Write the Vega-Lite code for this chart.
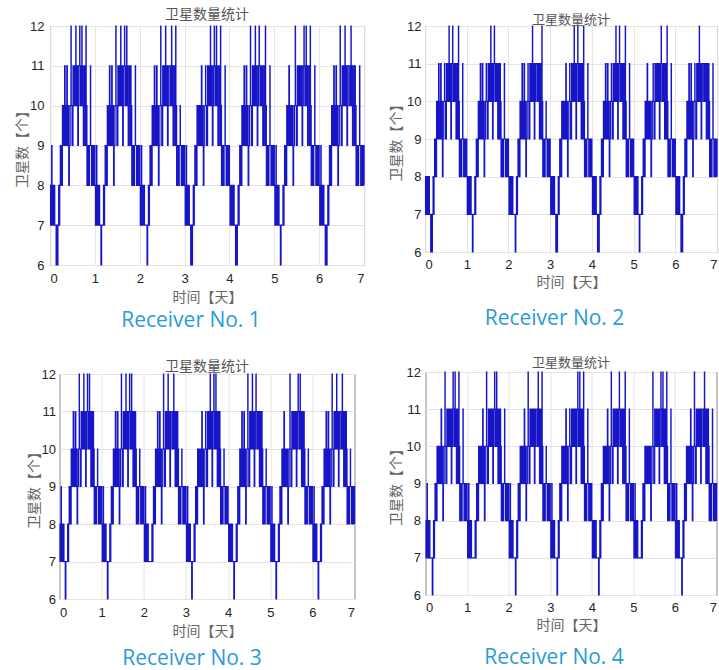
{
"$schema":"https://vega.github.io/schema/vega-lite/v6.json",
"background":"white",
"padding":{"left":15,"top":7,"right":0,"bottom":0},
"spacing":21,
"config":{
"view":{"stroke":"#4a4a4a","strokeWidth":1},
"axis":{"grid":true,"gridColor":"#e4e4e4","gridWidth":1,"domain":false,"ticks":false,"labelFont":"Liberation Sans","labelFontSize":13,"labelColor":"#262626","titleFont":"Noto Sans CJK SC","titleFontSize":14,"titleFontWeight":"normal","titleColor":"#666666"},
"title":{"font":"Noto Sans CJK SC","fontSize":14,"fontWeight":"normal","color":"#555555"}
},
"datasets":{"s":[
{"t":0,"a":8,"b":8,"c":8,"d":8},
{"t":0.012,"a":7,"b":7,"c":7,"d":7},
{"t":0.024,"a":8,"b":8,"c":8,"d":8},
{"t":0.036,"a":9,"b":8,"c":9,"d":9},
{"t":0.044,"a":7,"b":7,"c":7,"d":7},
{"t":0.058,"a":8,"b":8,"c":8,"d":8},
{"t":0.072,"a":7,"b":7,"c":7,"d":7},
{"t":0.09,"a":8,"b":8,"c":8,"d":8},
{"t":0.105,"a":7,"b":7,"c":7,"d":7},
{"t":0.135,"a":6,"b":6,"c":6,"d":7},
{"t":0.15,"a":7,"b":7,"c":7,"d":7},
{"t":0.162,"a":6,"b":6,"c":7,"d":6},
{"t":0.176,"a":7,"b":7,"c":7,"d":7},
{"t":0.192,"a":8,"b":8,"c":8,"d":8},
{"t":0.204,"a":7,"b":7,"c":7,"d":7},
{"t":0.216,"a":8,"b":8,"c":8,"d":8},
{"t":0.228,"a":9,"b":9,"c":9,"d":9},
{"t":0.24,"a":8,"b":8,"c":8,"d":8},
{"t":0.252,"a":9,"b":9,"c":9,"d":9},
{"t":0.264,"a":8,"b":8,"c":8,"d":8},
{"t":0.276,"a":10,"b":10,"c":10,"d":10},
{"t":0.288,"a":9,"b":9,"c":9,"d":9},
{"t":0.3,"a":10,"b":10,"c":10,"d":10},
{"t":0.312,"a":9,"b":9,"c":9,"d":9},
{"t":0.324,"a":11,"b":11,"c":11,"d":10},
{"t":0.336,"a":10,"b":10,"c":10,"d":10},
{"t":0.348,"a":9,"b":9,"c":9,"d":9},
{"t":0.36,"a":10,"b":10,"c":10,"d":10},
{"t":0.374,"a":11,"b":11,"c":11,"d":11},
{"t":0.386,"a":9,"b":9,"c":9,"d":9},
{"t":0.4,"a":10,"b":10,"c":10,"d":10},
{"t":0.416,"a":8,"b":8,"c":8,"d":8},
{"t":0.43,"a":9,"b":9,"c":9,"d":9},
{"t":0.448,"a":10,"b":10,"c":10,"d":10},
{"t":0.466,"a":12,"b":11,"c":12,"d":12},
{"t":0.472,"a":10,"b":10,"c":10,"d":10},
{"t":0.49,"a":9,"b":9,"c":9,"d":9},
{"t":0.512,"a":11,"b":11,"c":11,"d":11},
{"t":0.53,"a":10,"b":10,"c":10,"d":10},
{"t":0.545,"a":11,"b":11,"c":11,"d":11},
{"t":0.56,"a":10,"b":10,"c":10,"d":10},
{"t":0.574,"a":12,"b":12,"c":12,"d":11},
{"t":0.58,"a":11,"b":11,"c":11,"d":11},
{"t":0.594,"a":10,"b":10,"c":10,"d":10},
{"t":0.606,"a":11,"b":11,"c":11,"d":11},
{"t":0.618,"a":9,"b":9,"c":9,"d":9},
{"t":0.632,"a":10,"b":10,"c":10,"d":10},
{"t":0.646,"a":11,"b":11,"c":11,"d":11},
{"t":0.66,"a":12,"b":12,"c":12,"d":12},
{"t":0.666,"a":11,"b":11,"c":11,"d":11},
{"t":0.68,"a":10,"b":10,"c":10,"d":10},
{"t":0.694,"a":11,"b":11,"c":11,"d":11},
{"t":0.708,"a":12,"b":11,"c":12,"d":12},
{"t":0.714,"a":10,"b":10,"c":10,"d":10},
{"t":0.728,"a":11,"b":11,"c":11,"d":11},
{"t":0.742,"a":9,"b":9,"c":9,"d":9},
{"t":0.756,"a":10,"b":10,"c":10,"d":10},
{"t":0.77,"a":11,"b":11,"c":11,"d":11},
{"t":0.784,"a":9,"b":9,"c":9,"d":9},
{"t":0.8,"a":12,"b":12,"c":11,"d":12},
{"t":0.806,"a":10,"b":10,"c":10,"d":10},
{"t":0.822,"a":8,"b":8,"c":8,"d":8},
{"t":0.84,"a":9,"b":9,"c":9,"d":9},
{"t":0.86,"a":8,"b":8,"c":8,"d":8},
{"t":0.88,"a":9,"b":9,"c":9,"d":9},
{"t":0.9,"a":11,"b":11,"c":10,"d":11},
{"t":0.906,"a":9,"b":9,"c":9,"d":9},
{"t":0.925,"a":8,"b":8,"c":8,"d":8},
{"t":0.945,"a":9,"b":9,"c":9,"d":9},
{"t":0.965,"a":8,"b":8,"c":8,"d":8},
{"t":0.982,"a":9,"b":9,"c":9,"d":9},
{"t":1,"a":8,"b":8,"c":8,"d":8},
{"t":1.012,"a":7,"b":7,"c":7,"d":7},
{"t":1.024,"a":8,"b":8,"c":8,"d":8},
{"t":1.036,"a":9,"b":8,"c":9,"d":9},
{"t":1.044,"a":7,"b":7,"c":7,"d":7},
{"t":1.058,"a":8,"b":8,"c":8,"d":8},
{"t":1.072,"a":7,"b":7,"c":7,"d":7},
{"t":1.09,"a":8,"b":8,"c":8,"d":8},
{"t":1.105,"a":7,"b":7,"c":7,"d":7},
{"t":1.135,"a":6,"b":6,"c":6,"d":7},
{"t":1.15,"a":7,"b":7,"c":7,"d":7},
{"t":1.162,"a":7,"b":7,"c":7,"d":7},
{"t":1.176,"a":7,"b":7,"c":7,"d":7},
{"t":1.192,"a":8,"b":8,"c":8,"d":8},
{"t":1.204,"a":7,"b":7,"c":7,"d":7},
{"t":1.216,"a":8,"b":8,"c":8,"d":8},
{"t":1.228,"a":9,"b":9,"c":9,"d":9},
{"t":1.24,"a":8,"b":8,"c":8,"d":8},
{"t":1.252,"a":9,"b":9,"c":9,"d":9},
{"t":1.264,"a":8,"b":8,"c":8,"d":8},
{"t":1.276,"a":10,"b":10,"c":10,"d":10},
{"t":1.288,"a":9,"b":9,"c":9,"d":9},
{"t":1.3,"a":10,"b":10,"c":10,"d":10},
{"t":1.312,"a":9,"b":9,"c":9,"d":9},
{"t":1.324,"a":11,"b":11,"c":11,"d":10},
{"t":1.336,"a":10,"b":10,"c":10,"d":10},
{"t":1.348,"a":9,"b":9,"c":9,"d":9},
{"t":1.36,"a":10,"b":10,"c":10,"d":10},
{"t":1.374,"a":11,"b":11,"c":11,"d":11},
{"t":1.386,"a":9,"b":9,"c":9,"d":9},
{"t":1.4,"a":10,"b":10,"c":10,"d":10},
{"t":1.416,"a":8,"b":8,"c":8,"d":8},
{"t":1.43,"a":9,"b":9,"c":9,"d":9},
{"t":1.448,"a":10,"b":10,"c":10,"d":10},
{"t":1.466,"a":12,"b":11,"c":12,"d":12},
{"t":1.472,"a":10,"b":10,"c":10,"d":10},
{"t":1.49,"a":9,"b":9,"c":9,"d":9},
{"t":1.512,"a":11,"b":11,"c":11,"d":11},
{"t":1.53,"a":10,"b":10,"c":10,"d":10},
{"t":1.545,"a":11,"b":11,"c":11,"d":11},
{"t":1.56,"a":10,"b":10,"c":10,"d":10},
{"t":1.574,"a":12,"b":12,"c":12,"d":11},
{"t":1.58,"a":11,"b":11,"c":11,"d":11},
{"t":1.594,"a":10,"b":10,"c":10,"d":10},
{"t":1.606,"a":11,"b":11,"c":11,"d":11},
{"t":1.618,"a":9,"b":9,"c":9,"d":9},
{"t":1.632,"a":10,"b":10,"c":10,"d":10},
{"t":1.646,"a":11,"b":11,"c":11,"d":11},
{"t":1.66,"a":12,"b":12,"c":12,"d":12},
{"t":1.666,"a":11,"b":11,"c":11,"d":11},
{"t":1.68,"a":10,"b":10,"c":10,"d":10},
{"t":1.694,"a":11,"b":11,"c":11,"d":11},
{"t":1.708,"a":12,"b":11,"c":12,"d":12},
{"t":1.714,"a":10,"b":10,"c":10,"d":10},
{"t":1.728,"a":11,"b":11,"c":11,"d":11},
{"t":1.742,"a":9,"b":9,"c":9,"d":9},
{"t":1.756,"a":10,"b":10,"c":10,"d":10},
{"t":1.77,"a":11,"b":11,"c":11,"d":11},
{"t":1.784,"a":9,"b":9,"c":9,"d":9},
{"t":1.8,"a":11,"b":11,"c":11,"d":11},
{"t":1.806,"a":10,"b":10,"c":10,"d":10},
{"t":1.822,"a":8,"b":8,"c":8,"d":8},
{"t":1.84,"a":9,"b":9,"c":9,"d":9},
{"t":1.86,"a":8,"b":8,"c":8,"d":8},
{"t":1.88,"a":9,"b":9,"c":9,"d":9},
{"t":1.9,"a":11,"b":11,"c":10,"d":11},
{"t":1.906,"a":9,"b":9,"c":9,"d":9},
{"t":1.925,"a":8,"b":8,"c":8,"d":8},
{"t":1.945,"a":9,"b":9,"c":9,"d":9},
{"t":1.965,"a":8,"b":8,"c":8,"d":8},
{"t":1.982,"a":9,"b":9,"c":9,"d":9},
{"t":2,"a":8,"b":8,"c":8,"d":8},
{"t":2.012,"a":7,"b":7,"c":7,"d":7},
{"t":2.024,"a":8,"b":8,"c":8,"d":8},
{"t":2.036,"a":9,"b":8,"c":9,"d":9},
{"t":2.044,"a":7,"b":7,"c":7,"d":7},
{"t":2.058,"a":8,"b":8,"c":8,"d":8},
{"t":2.072,"a":7,"b":7,"c":7,"d":7},
{"t":2.09,"a":8,"b":8,"c":8,"d":8},
{"t":2.105,"a":7,"b":7,"c":7,"d":7},
{"t":2.135,"a":7,"b":7,"c":7,"d":7},
{"t":2.15,"a":7,"b":7,"c":7,"d":7},
{"t":2.162,"a":6,"b":6,"c":7,"d":6},
{"t":2.176,"a":7,"b":7,"c":7,"d":7},
{"t":2.192,"a":8,"b":8,"c":8,"d":8},
{"t":2.204,"a":7,"b":7,"c":7,"d":7},
{"t":2.216,"a":8,"b":8,"c":8,"d":8},
{"t":2.228,"a":9,"b":9,"c":9,"d":9},
{"t":2.24,"a":8,"b":8,"c":8,"d":8},
{"t":2.252,"a":9,"b":9,"c":9,"d":9},
{"t":2.264,"a":8,"b":8,"c":8,"d":8},
{"t":2.276,"a":10,"b":10,"c":10,"d":10},
{"t":2.288,"a":9,"b":9,"c":9,"d":9},
{"t":2.3,"a":10,"b":10,"c":10,"d":10},
{"t":2.312,"a":9,"b":9,"c":9,"d":9},
{"t":2.324,"a":11,"b":11,"c":11,"d":10},
{"t":2.336,"a":10,"b":10,"c":10,"d":10},
{"t":2.348,"a":9,"b":9,"c":9,"d":9},
{"t":2.36,"a":10,"b":10,"c":10,"d":10},
{"t":2.374,"a":11,"b":11,"c":11,"d":11},
{"t":2.386,"a":9,"b":9,"c":9,"d":9},
{"t":2.4,"a":10,"b":10,"c":10,"d":10},
{"t":2.416,"a":8,"b":8,"c":8,"d":8},
{"t":2.43,"a":9,"b":9,"c":9,"d":9},
{"t":2.448,"a":10,"b":10,"c":10,"d":10},
{"t":2.466,"a":12,"b":11,"c":12,"d":12},
{"t":2.472,"a":10,"b":10,"c":10,"d":10},
{"t":2.49,"a":9,"b":9,"c":9,"d":9},
{"t":2.512,"a":11,"b":11,"c":11,"d":11},
{"t":2.53,"a":10,"b":10,"c":10,"d":10},
{"t":2.545,"a":11,"b":11,"c":11,"d":11},
{"t":2.56,"a":10,"b":10,"c":10,"d":10},
{"t":2.574,"a":12,"b":12,"c":12,"d":11},
{"t":2.58,"a":11,"b":11,"c":11,"d":11},
{"t":2.594,"a":10,"b":10,"c":10,"d":10},
{"t":2.606,"a":11,"b":11,"c":11,"d":11},
{"t":2.618,"a":9,"b":9,"c":9,"d":9},
{"t":2.632,"a":10,"b":10,"c":10,"d":10},
{"t":2.646,"a":11,"b":11,"c":11,"d":11},
{"t":2.66,"a":11,"b":11,"c":11,"d":11},
{"t":2.666,"a":11,"b":11,"c":11,"d":11},
{"t":2.68,"a":10,"b":10,"c":10,"d":10},
{"t":2.694,"a":11,"b":11,"c":11,"d":11},
{"t":2.708,"a":12,"b":11,"c":12,"d":12},
{"t":2.714,"a":10,"b":10,"c":10,"d":10},
{"t":2.728,"a":11,"b":11,"c":11,"d":11},
{"t":2.742,"a":9,"b":9,"c":9,"d":9},
{"t":2.756,"a":10,"b":10,"c":10,"d":10},
{"t":2.77,"a":11,"b":11,"c":11,"d":11},
{"t":2.784,"a":9,"b":9,"c":9,"d":9},
{"t":2.8,"a":12,"b":12,"c":11,"d":12},
{"t":2.806,"a":10,"b":10,"c":10,"d":10},
{"t":2.822,"a":8,"b":8,"c":8,"d":8},
{"t":2.84,"a":9,"b":9,"c":9,"d":9},
{"t":2.86,"a":8,"b":8,"c":8,"d":8},
{"t":2.88,"a":9,"b":9,"c":9,"d":9},
{"t":2.9,"a":10,"b":10,"c":10,"d":10},
{"t":2.906,"a":9,"b":9,"c":9,"d":9},
{"t":2.925,"a":8,"b":8,"c":8,"d":8},
{"t":2.945,"a":9,"b":9,"c":9,"d":9},
{"t":2.965,"a":8,"b":8,"c":8,"d":8},
{"t":2.982,"a":9,"b":9,"c":9,"d":9},
{"t":3,"a":8,"b":8,"c":8,"d":8},
{"t":3.012,"a":7,"b":7,"c":7,"d":7},
{"t":3.024,"a":8,"b":8,"c":8,"d":8},
{"t":3.036,"a":9,"b":8,"c":9,"d":9},
{"t":3.044,"a":7,"b":7,"c":7,"d":7},
{"t":3.058,"a":8,"b":8,"c":8,"d":8},
{"t":3.072,"a":7,"b":7,"c":7,"d":7},
{"t":3.09,"a":8,"b":8,"c":8,"d":8},
{"t":3.105,"a":7,"b":7,"c":7,"d":7},
{"t":3.135,"a":6,"b":6,"c":6,"d":7},
{"t":3.15,"a":7,"b":7,"c":7,"d":7},
{"t":3.162,"a":6,"b":6,"c":7,"d":6},
{"t":3.176,"a":7,"b":7,"c":7,"d":7},
{"t":3.192,"a":8,"b":8,"c":8,"d":8},
{"t":3.204,"a":7,"b":7,"c":7,"d":7},
{"t":3.216,"a":8,"b":8,"c":8,"d":8},
{"t":3.228,"a":9,"b":9,"c":9,"d":9},
{"t":3.24,"a":8,"b":8,"c":8,"d":8},
{"t":3.252,"a":9,"b":9,"c":9,"d":9},
{"t":3.264,"a":8,"b":8,"c":8,"d":8},
{"t":3.276,"a":10,"b":10,"c":10,"d":10},
{"t":3.288,"a":9,"b":9,"c":9,"d":9},
{"t":3.3,"a":10,"b":10,"c":10,"d":10},
{"t":3.312,"a":9,"b":9,"c":9,"d":9},
{"t":3.324,"a":10,"b":10,"c":10,"d":10},
{"t":3.336,"a":10,"b":10,"c":10,"d":10},
{"t":3.348,"a":9,"b":9,"c":9,"d":9},
{"t":3.36,"a":10,"b":10,"c":10,"d":10},
{"t":3.374,"a":11,"b":11,"c":11,"d":11},
{"t":3.386,"a":9,"b":9,"c":9,"d":9},
{"t":3.4,"a":10,"b":10,"c":10,"d":10},
{"t":3.416,"a":8,"b":8,"c":8,"d":8},
{"t":3.43,"a":9,"b":9,"c":9,"d":9},
{"t":3.448,"a":10,"b":10,"c":10,"d":10},
{"t":3.466,"a":11,"b":11,"c":11,"d":11},
{"t":3.472,"a":10,"b":10,"c":10,"d":10},
{"t":3.49,"a":9,"b":9,"c":9,"d":9},
{"t":3.512,"a":11,"b":11,"c":11,"d":11},
{"t":3.53,"a":10,"b":10,"c":10,"d":10},
{"t":3.545,"a":11,"b":11,"c":11,"d":11},
{"t":3.56,"a":10,"b":10,"c":10,"d":10},
{"t":3.574,"a":12,"b":12,"c":12,"d":11},
{"t":3.58,"a":11,"b":11,"c":11,"d":11},
{"t":3.594,"a":10,"b":10,"c":10,"d":10},
{"t":3.606,"a":11,"b":11,"c":11,"d":11},
{"t":3.618,"a":9,"b":9,"c":9,"d":9},
{"t":3.632,"a":10,"b":10,"c":10,"d":10},
{"t":3.646,"a":11,"b":11,"c":11,"d":11},
{"t":3.66,"a":12,"b":12,"c":12,"d":12},
{"t":3.666,"a":11,"b":11,"c":11,"d":11},
{"t":3.68,"a":10,"b":10,"c":10,"d":10},
{"t":3.694,"a":11,"b":11,"c":11,"d":11},
{"t":3.708,"a":12,"b":11,"c":12,"d":12},
{"t":3.714,"a":10,"b":10,"c":10,"d":10},
{"t":3.728,"a":11,"b":11,"c":11,"d":11},
{"t":3.742,"a":9,"b":9,"c":9,"d":9},
{"t":3.756,"a":10,"b":10,"c":10,"d":10},
{"t":3.77,"a":11,"b":11,"c":11,"d":11},
{"t":3.784,"a":9,"b":9,"c":9,"d":9},
{"t":3.8,"a":12,"b":12,"c":11,"d":12},
{"t":3.806,"a":10,"b":10,"c":10,"d":10},
{"t":3.822,"a":8,"b":8,"c":8,"d":8},
{"t":3.84,"a":9,"b":9,"c":9,"d":9},
{"t":3.86,"a":8,"b":8,"c":8,"d":8},
{"t":3.88,"a":9,"b":9,"c":9,"d":9},
{"t":3.9,"a":11,"b":11,"c":10,"d":11},
{"t":3.906,"a":9,"b":9,"c":9,"d":9},
{"t":3.925,"a":8,"b":8,"c":8,"d":8},
{"t":3.945,"a":9,"b":9,"c":9,"d":9},
{"t":3.965,"a":8,"b":8,"c":8,"d":8},
{"t":3.982,"a":9,"b":9,"c":9,"d":9},
{"t":4,"a":8,"b":8,"c":8,"d":8},
{"t":4.012,"a":7,"b":7,"c":7,"d":7},
{"t":4.024,"a":8,"b":8,"c":8,"d":8},
{"t":4.036,"a":8,"b":8,"c":8,"d":8},
{"t":4.044,"a":7,"b":7,"c":7,"d":7},
{"t":4.058,"a":8,"b":8,"c":8,"d":8},
{"t":4.072,"a":7,"b":7,"c":7,"d":7},
{"t":4.09,"a":8,"b":8,"c":8,"d":8},
{"t":4.105,"a":7,"b":7,"c":7,"d":7},
{"t":4.135,"a":6,"b":6,"c":6,"d":7},
{"t":4.15,"a":7,"b":7,"c":7,"d":7},
{"t":4.162,"a":6,"b":6,"c":7,"d":6},
{"t":4.176,"a":7,"b":7,"c":7,"d":7},
{"t":4.192,"a":8,"b":8,"c":8,"d":8},
{"t":4.204,"a":7,"b":7,"c":7,"d":7},
{"t":4.216,"a":8,"b":8,"c":8,"d":8},
{"t":4.228,"a":9,"b":9,"c":9,"d":9},
{"t":4.24,"a":8,"b":8,"c":8,"d":8},
{"t":4.252,"a":9,"b":9,"c":9,"d":9},
{"t":4.264,"a":8,"b":8,"c":8,"d":8},
{"t":4.276,"a":10,"b":10,"c":10,"d":10},
{"t":4.288,"a":9,"b":9,"c":9,"d":9},
{"t":4.3,"a":10,"b":10,"c":10,"d":10},
{"t":4.312,"a":9,"b":9,"c":9,"d":9},
{"t":4.324,"a":11,"b":11,"c":11,"d":10},
{"t":4.336,"a":10,"b":10,"c":10,"d":10},
{"t":4.348,"a":9,"b":9,"c":9,"d":9},
{"t":4.36,"a":10,"b":10,"c":10,"d":10},
{"t":4.374,"a":11,"b":11,"c":11,"d":11},
{"t":4.386,"a":9,"b":9,"c":9,"d":9},
{"t":4.4,"a":10,"b":10,"c":10,"d":10},
{"t":4.416,"a":8,"b":8,"c":8,"d":8},
{"t":4.43,"a":9,"b":9,"c":9,"d":9},
{"t":4.448,"a":10,"b":10,"c":10,"d":10},
{"t":4.466,"a":12,"b":11,"c":12,"d":12},
{"t":4.472,"a":10,"b":10,"c":10,"d":10},
{"t":4.49,"a":9,"b":9,"c":9,"d":9},
{"t":4.512,"a":11,"b":11,"c":11,"d":11},
{"t":4.53,"a":10,"b":10,"c":10,"d":10},
{"t":4.545,"a":11,"b":11,"c":11,"d":11},
{"t":4.56,"a":10,"b":10,"c":10,"d":10},
{"t":4.574,"a":12,"b":12,"c":12,"d":11},
{"t":4.58,"a":11,"b":11,"c":11,"d":11},
{"t":4.594,"a":10,"b":10,"c":10,"d":10},
{"t":4.606,"a":11,"b":11,"c":11,"d":11},
{"t":4.618,"a":9,"b":9,"c":9,"d":9},
{"t":4.632,"a":10,"b":10,"c":10,"d":10},
{"t":4.646,"a":11,"b":11,"c":11,"d":11},
{"t":4.66,"a":12,"b":12,"c":12,"d":12},
{"t":4.666,"a":11,"b":11,"c":11,"d":11},
{"t":4.68,"a":10,"b":10,"c":10,"d":10},
{"t":4.694,"a":11,"b":11,"c":11,"d":11},
{"t":4.708,"a":11,"b":11,"c":11,"d":11},
{"t":4.714,"a":10,"b":10,"c":10,"d":10},
{"t":4.728,"a":11,"b":11,"c":11,"d":11},
{"t":4.742,"a":9,"b":9,"c":9,"d":9},
{"t":4.756,"a":10,"b":10,"c":10,"d":10},
{"t":4.77,"a":11,"b":11,"c":11,"d":11},
{"t":4.784,"a":9,"b":9,"c":9,"d":9},
{"t":4.8,"a":12,"b":12,"c":11,"d":12},
{"t":4.806,"a":10,"b":10,"c":10,"d":10},
{"t":4.822,"a":8,"b":8,"c":8,"d":8},
{"t":4.84,"a":9,"b":9,"c":9,"d":9},
{"t":4.86,"a":8,"b":8,"c":8,"d":8},
{"t":4.88,"a":9,"b":9,"c":9,"d":9},
{"t":4.9,"a":11,"b":11,"c":10,"d":11},
{"t":4.906,"a":9,"b":9,"c":9,"d":9},
{"t":4.925,"a":8,"b":8,"c":8,"d":8},
{"t":4.945,"a":9,"b":9,"c":9,"d":9},
{"t":4.965,"a":8,"b":8,"c":8,"d":8},
{"t":4.982,"a":9,"b":9,"c":9,"d":9},
{"t":5,"a":8,"b":8,"c":8,"d":8},
{"t":5.012,"a":7,"b":7,"c":7,"d":7},
{"t":5.024,"a":8,"b":8,"c":8,"d":8},
{"t":5.036,"a":9,"b":8,"c":9,"d":9},
{"t":5.044,"a":7,"b":7,"c":7,"d":7},
{"t":5.058,"a":8,"b":8,"c":8,"d":8},
{"t":5.072,"a":7,"b":7,"c":7,"d":7},
{"t":5.09,"a":8,"b":8,"c":8,"d":8},
{"t":5.105,"a":7,"b":7,"c":7,"d":7},
{"t":5.135,"a":6,"b":6,"c":6,"d":7},
{"t":5.15,"a":7,"b":7,"c":7,"d":7},
{"t":5.162,"a":7,"b":7,"c":7,"d":7},
{"t":5.176,"a":7,"b":7,"c":7,"d":7},
{"t":5.192,"a":8,"b":8,"c":8,"d":8},
{"t":5.204,"a":7,"b":7,"c":7,"d":7},
{"t":5.216,"a":8,"b":8,"c":8,"d":8},
{"t":5.228,"a":9,"b":9,"c":9,"d":9},
{"t":5.24,"a":8,"b":8,"c":8,"d":8},
{"t":5.252,"a":9,"b":9,"c":9,"d":9},
{"t":5.264,"a":8,"b":8,"c":8,"d":8},
{"t":5.276,"a":10,"b":10,"c":10,"d":10},
{"t":5.288,"a":9,"b":9,"c":9,"d":9},
{"t":5.3,"a":10,"b":10,"c":10,"d":10},
{"t":5.312,"a":9,"b":9,"c":9,"d":9},
{"t":5.324,"a":11,"b":11,"c":11,"d":10},
{"t":5.336,"a":10,"b":10,"c":10,"d":10},
{"t":5.348,"a":9,"b":9,"c":9,"d":9},
{"t":5.36,"a":10,"b":10,"c":10,"d":10},
{"t":5.374,"a":10,"b":10,"c":10,"d":10},
{"t":5.386,"a":9,"b":9,"c":9,"d":9},
{"t":5.4,"a":10,"b":10,"c":10,"d":10},
{"t":5.416,"a":8,"b":8,"c":8,"d":8},
{"t":5.43,"a":9,"b":9,"c":9,"d":9},
{"t":5.448,"a":10,"b":10,"c":10,"d":10},
{"t":5.466,"a":12,"b":11,"c":12,"d":12},
{"t":5.472,"a":10,"b":10,"c":10,"d":10},
{"t":5.49,"a":9,"b":9,"c":9,"d":9},
{"t":5.512,"a":11,"b":11,"c":11,"d":11},
{"t":5.53,"a":10,"b":10,"c":10,"d":10},
{"t":5.545,"a":11,"b":11,"c":11,"d":11},
{"t":5.56,"a":10,"b":10,"c":10,"d":10},
{"t":5.574,"a":11,"b":11,"c":11,"d":11},
{"t":5.58,"a":11,"b":11,"c":11,"d":11},
{"t":5.594,"a":10,"b":10,"c":10,"d":10},
{"t":5.606,"a":11,"b":11,"c":11,"d":11},
{"t":5.618,"a":9,"b":9,"c":9,"d":9},
{"t":5.632,"a":10,"b":10,"c":10,"d":10},
{"t":5.646,"a":11,"b":11,"c":11,"d":11},
{"t":5.66,"a":12,"b":12,"c":12,"d":12},
{"t":5.666,"a":11,"b":11,"c":11,"d":11},
{"t":5.68,"a":10,"b":10,"c":10,"d":10},
{"t":5.694,"a":11,"b":11,"c":11,"d":11},
{"t":5.708,"a":12,"b":11,"c":12,"d":12},
{"t":5.714,"a":10,"b":10,"c":10,"d":10},
{"t":5.728,"a":11,"b":11,"c":11,"d":11},
{"t":5.742,"a":9,"b":9,"c":9,"d":9},
{"t":5.756,"a":10,"b":10,"c":10,"d":10},
{"t":5.77,"a":11,"b":11,"c":11,"d":11},
{"t":5.784,"a":9,"b":9,"c":9,"d":9},
{"t":5.8,"a":12,"b":12,"c":11,"d":12},
{"t":5.806,"a":10,"b":10,"c":10,"d":10},
{"t":5.822,"a":8,"b":8,"c":8,"d":8},
{"t":5.84,"a":9,"b":9,"c":9,"d":9},
{"t":5.86,"a":8,"b":8,"c":8,"d":8},
{"t":5.88,"a":9,"b":9,"c":9,"d":9},
{"t":5.9,"a":11,"b":11,"c":10,"d":11},
{"t":5.906,"a":9,"b":9,"c":9,"d":9},
{"t":5.925,"a":8,"b":8,"c":8,"d":8},
{"t":5.945,"a":9,"b":9,"c":9,"d":9},
{"t":5.965,"a":8,"b":8,"c":8,"d":8},
{"t":5.982,"a":9,"b":9,"c":9,"d":9},
{"t":6,"a":8,"b":8,"c":8,"d":8},
{"t":6.012,"a":7,"b":7,"c":7,"d":7},
{"t":6.024,"a":8,"b":8,"c":8,"d":8},
{"t":6.036,"a":9,"b":8,"c":9,"d":9},
{"t":6.044,"a":7,"b":7,"c":7,"d":7},
{"t":6.058,"a":8,"b":8,"c":8,"d":8},
{"t":6.072,"a":7,"b":7,"c":7,"d":7},
{"t":6.09,"a":8,"b":8,"c":8,"d":8},
{"t":6.105,"a":7,"b":7,"c":7,"d":7},
{"t":6.135,"a":6,"b":6,"c":6,"d":7},
{"t":6.15,"a":7,"b":7,"c":7,"d":7},
{"t":6.162,"a":6,"b":6,"c":7,"d":6},
{"t":6.176,"a":7,"b":7,"c":7,"d":7},
{"t":6.192,"a":8,"b":8,"c":8,"d":8},
{"t":6.204,"a":7,"b":7,"c":7,"d":7},
{"t":6.216,"a":8,"b":8,"c":8,"d":8},
{"t":6.228,"a":9,"b":9,"c":9,"d":9},
{"t":6.24,"a":8,"b":8,"c":8,"d":8},
{"t":6.252,"a":9,"b":9,"c":9,"d":9},
{"t":6.264,"a":8,"b":8,"c":8,"d":8},
{"t":6.276,"a":10,"b":10,"c":10,"d":10},
{"t":6.288,"a":9,"b":9,"c":9,"d":9},
{"t":6.3,"a":10,"b":10,"c":10,"d":10},
{"t":6.312,"a":9,"b":9,"c":9,"d":9},
{"t":6.324,"a":11,"b":11,"c":11,"d":10},
{"t":6.336,"a":10,"b":10,"c":10,"d":10},
{"t":6.348,"a":9,"b":9,"c":9,"d":9},
{"t":6.36,"a":10,"b":10,"c":10,"d":10},
{"t":6.374,"a":11,"b":11,"c":11,"d":11},
{"t":6.386,"a":9,"b":9,"c":9,"d":9},
{"t":6.4,"a":10,"b":10,"c":10,"d":10},
{"t":6.416,"a":8,"b":8,"c":8,"d":8},
{"t":6.43,"a":9,"b":9,"c":9,"d":9},
{"t":6.448,"a":10,"b":10,"c":10,"d":10},
{"t":6.466,"a":12,"b":11,"c":12,"d":12},
{"t":6.472,"a":10,"b":10,"c":10,"d":10},
{"t":6.49,"a":9,"b":9,"c":9,"d":9},
{"t":6.512,"a":11,"b":11,"c":11,"d":11},
{"t":6.53,"a":10,"b":10,"c":10,"d":10},
{"t":6.545,"a":11,"b":11,"c":11,"d":11},
{"t":6.56,"a":10,"b":10,"c":10,"d":10},
{"t":6.574,"a":12,"b":12,"c":12,"d":11},
{"t":6.58,"a":11,"b":11,"c":11,"d":11},
{"t":6.594,"a":10,"b":10,"c":10,"d":10},
{"t":6.606,"a":11,"b":11,"c":11,"d":11},
{"t":6.618,"a":9,"b":9,"c":9,"d":9},
{"t":6.632,"a":10,"b":10,"c":10,"d":10},
{"t":6.646,"a":11,"b":11,"c":11,"d":11},
{"t":6.66,"a":11,"b":11,"c":11,"d":11},
{"t":6.666,"a":11,"b":11,"c":11,"d":11},
{"t":6.68,"a":10,"b":10,"c":10,"d":10},
{"t":6.694,"a":11,"b":11,"c":11,"d":11},
{"t":6.708,"a":12,"b":11,"c":12,"d":12},
{"t":6.714,"a":10,"b":10,"c":10,"d":10},
{"t":6.728,"a":11,"b":11,"c":11,"d":11},
{"t":6.742,"a":9,"b":9,"c":9,"d":9},
{"t":6.756,"a":10,"b":10,"c":10,"d":10},
{"t":6.77,"a":11,"b":11,"c":11,"d":11},
{"t":6.784,"a":9,"b":9,"c":9,"d":9},
{"t":6.8,"a":11,"b":11,"c":11,"d":11},
{"t":6.806,"a":10,"b":10,"c":10,"d":10},
{"t":6.822,"a":8,"b":8,"c":8,"d":8},
{"t":6.84,"a":9,"b":9,"c":9,"d":9},
{"t":6.86,"a":8,"b":8,"c":8,"d":8},
{"t":6.88,"a":9,"b":9,"c":9,"d":9},
{"t":6.9,"a":11,"b":11,"c":10,"d":11},
{"t":6.906,"a":9,"b":9,"c":9,"d":9},
{"t":6.925,"a":8,"b":8,"c":8,"d":8},
{"t":6.945,"a":9,"b":9,"c":9,"d":9},
{"t":6.965,"a":8,"b":8,"c":8,"d":8},
{"t":6.982,"a":9,"b":9,"c":9,"d":9},
{"t":7,"a":8,"b":8,"c":8,"d":8}
]},
"hconcat":[
{"vconcat":[
{"title":{"text":"Receiver No. 1","orient":"bottom","anchor":"middle","font":"Open Sans","fontSize":21,"color":"#2b9bd8","offset":5},
 "vconcat":[{"title":{"text":"卫星数量统计","offset":-1.5,"fontSize":14,"frame":"group"},"width":314,"height":239,"data":{"name":"s"},
  "mark":{"type":"line","interpolate":"step-after","color":"#1616c8","strokeWidth":1.2},
  "encoding":{"x":{"field":"t","type":"quantitative","scale":{"domain":[0,7],"nice":false},"axis":{"title":"时间【天】","values":[0,1,2,3,4,5,6,7],"labelPadding":7,"titlePadding":5}},
   "y":{"field":"a","type":"quantitative","scale":{"domain":[6,12],"nice":false,"zero":false},"axis":{"title":"卫星数【个】","values":[6,7,8,9,10,11,12],"labelPadding":6,"titlePadding":0}}}}]},
{"title":{"text":"Receiver No. 3","orient":"bottom","anchor":"middle","font":"Open Sans","fontSize":21,"color":"#2b9bd8","offset":9},
 "vconcat":[{"title":{"text":"卫星数量统计","offset":-5.5,"fontSize":14,"frame":"group"},"width":295,"height":225,"data":{"name":"s"},
  "mark":{"type":"line","interpolate":"step-after","color":"#1616c8","strokeWidth":1.2},
  "encoding":{"x":{"field":"t","type":"quantitative","scale":{"domain":[0,7],"nice":false},"axis":{"title":"时间【天】","values":[0,1,2,3,4,5,6,7],"labelPadding":7,"titlePadding":5}},
   "y":{"field":"c","type":"quantitative","scale":{"domain":[6,12],"nice":false,"zero":false},"axis":{"title":"卫星数【个】","values":[6,7,8,9,10,11,12],"labelPadding":4,"titlePadding":0}}}}]}
],"center":true,"spacing":28},
{"vconcat":[
{"title":{"text":"Receiver No. 2","orient":"bottom","anchor":"middle","font":"Open Sans","fontSize":21,"color":"#2b9bd8","offset":18},
 "vconcat":[{"title":{"text":"卫星数量统计","offset":-6.5,"fontSize":13,"frame":"group"},"width":292,"height":226,"data":{"name":"s"},
  "mark":{"type":"line","interpolate":"step-after","color":"#1616c8","strokeWidth":1.2},
  "encoding":{"x":{"field":"t","type":"quantitative","scale":{"domain":[0,7],"nice":false},"axis":{"title":"时间【天】","values":[0,1,2,3,4,5,6,7],"labelPadding":6,"titlePadding":4}},
   "y":{"field":"b","type":"quantitative","scale":{"domain":[6,12],"nice":false,"zero":false},"axis":{"title":"卫星数【个】","values":[6,7,8,9,10,11,12],"labelPadding":4,"titlePadding":3}}}}]},
{"title":{"text":"Receiver No. 4","orient":"bottom","anchor":"middle","font":"Open Sans","fontSize":21,"color":"#2b9bd8","offset":14},
 "vconcat":[{"title":{"text":"卫星数量统计","offset":-3.5,"fontSize":13,"frame":"group"},"width":291,"height":223,"data":{"name":"s"},
  "mark":{"type":"line","interpolate":"step-after","color":"#1616c8","strokeWidth":1.2},
  "encoding":{"x":{"field":"t","type":"quantitative","scale":{"domain":[0,7],"nice":false},"axis":{"title":"时间【天】","values":[0,1,2,3,4,5,6,7],"labelPadding":6,"titlePadding":4}},
   "y":{"field":"d","type":"quantitative","scale":{"domain":[6,12],"nice":false,"zero":false},"axis":{"title":"卫星数【个】","values":[6,7,8,9,10,11,12],"labelPadding":5,"titlePadding":3}}}}]}
],"center":true,"spacing":27}
]
}
